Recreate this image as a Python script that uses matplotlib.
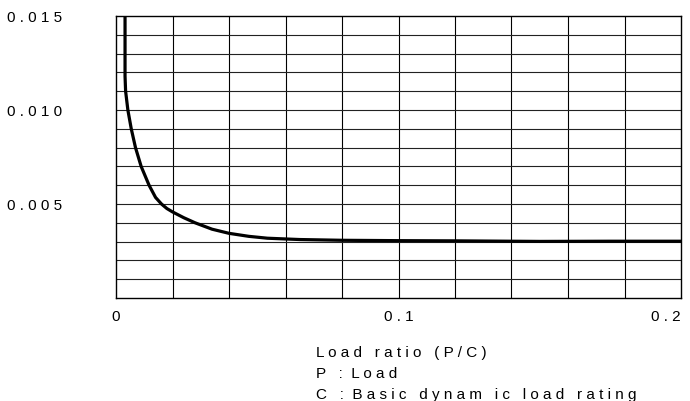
import matplotlib
matplotlib.use("Agg")
import matplotlib.pyplot as plt
import numpy as np

# curve: load ratio P/C vs value
load_ratio = [0.0032, 0.0032, 0.0032, 0.0034, 0.0042, 0.0054, 0.0069, 0.0089, 0.0117,
              0.0140, 0.0161, 0.0180, 0.0200, 0.0240, 0.0280, 0.0340, 0.0400, 0.0470,
              0.0536, 0.0650, 0.0800, 0.1000, 0.1200, 0.1500, 0.1750, 0.2000]
value = [0.0150, 0.0130, 0.0118, 0.01100, 0.01000, 0.00900, 0.00800, 0.00700, 0.00600,
         0.00535, 0.00500, 0.00476, 0.00458, 0.00427, 0.00400, 0.00366, 0.00344, 0.00328,
         0.00318, 0.00311, 0.00307, 0.00305, 0.00304, 0.00301, 0.00302, 0.00302]

x_ticks = [0, 0.1, 0.2]
x_labels = ["0", "0 . 1", "0 . 2"]
y_ticks = [0.005, 0.010, 0.015]
y_labels = ["0 . 0 0 5", "0 . 0 1 0", "0 . 0 1 5"]
caption = ["L o a d   r a t i o   ( P / C )",
           "P   :  L o a d",
           "C   :  B a s i c   d y n a m   i c   l o a d   r a t i n g"]

plt.rcParams['font.family'] = ['Liberation Sans', 'DejaVu Sans']

fig = plt.figure(figsize=(6.9, 4.02), dpi=100)
ax = fig.add_axes([116/690, 1 - 299/402, 565/690, 282/402])

ax.set_xlim(0, 0.2)
ax.set_ylim(0, 0.015)

# grid: 0.02 in x, 0.001 in y
for gx in np.arange(0.02, 0.2, 0.02):
    ax.axvline(gx, color='black', lw=0.8, zorder=1)
for gy in np.arange(0.001, 0.015, 0.001):
    ax.axhline(gy, color='#222222', lw=0.8, zorder=1)

ax.plot(load_ratio, value, color='black', lw=2.3, solid_joinstyle='round', zorder=3)

for s in ax.spines.values():
    s.set_color('black')
    s.set_linewidth(1.0)

ax.set_xticks(x_ticks)
ax.set_xticklabels(x_labels, fontsize=11)
ax.set_yticks(y_ticks)
ax.set_yticklabels(y_labels, fontsize=11)
ax.tick_params(axis='x', length=0, pad=8)
ax.tick_params(axis='y', length=0, pad=39)
ax.get_xticklabels()[-1].set_ha('right')

for i, line in enumerate(caption):
    fig.text(316/690, 1 - (353 + 21*i)/402, line, fontsize=11, ha='left', va='center')

fig.savefig("out.png", dpi=100)
